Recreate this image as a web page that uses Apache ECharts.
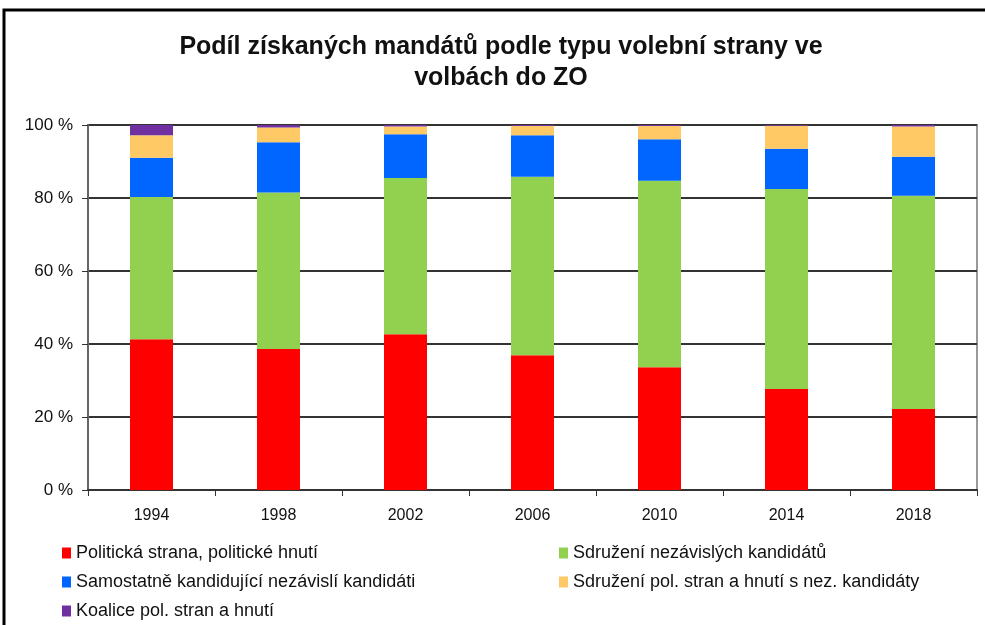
<!DOCTYPE html>
<html>
<head>
<meta charset="utf-8">
<script src="https://cdn.jsdelivr.net/npm/echarts@6/dist/echarts.min.js"></script>
<style>
  html, body { margin: 0; padding: 0; background: #fff; }
  #chart { width: 985px; height: 625px; }
</style>
</head>
<body>
<div id="chart"></div>
<script>
const years = ["1994", "1998", "2002", "2006", "2010", "2014", "2018"];
const names = [
  "Politická strana, politické hnutí",
  "Sdružení nezávislých kandidátů",
  "Samostatně kandidující nezávislí kandidáti",
  "Sdružení pol. stran a hnutí s nez. kandidáty",
  "Koalice pol. stran a hnutí"
];
const politicka = [41.3, 38.6, 42.7, 36.9, 33.6, 27.7, 22.2];
const sdruzeniNez = [39.0, 42.9, 42.8, 48.9, 51.1, 54.8, 58.4];
const samostatne = [10.7, 13.8, 12.0, 11.4, 11.4, 11.0, 10.7];
const sdruzeniPol = [6.2, 4.0, 2.1, 2.5, 3.6, 6.3, 8.3];
const koalice = [2.8, 0.7, 0.4, 0.3, 0.3, 0.2, 0.4];
const yTicks = [0, 20, 40, 60, 80, 100];

const colors = ["#ff0000", "#92d050", "#0066ff", "#ffc966", "#7030a0"];
const values = [politicka, sdruzeniNez, samostatne, sdruzeniPol, koalice];

// legend positions, one legend per item
const legendPos = [
  { left: 57, top: 539 },
  { left: 554, top: 539 },
  { left: 57, top: 568 },
  { left: 554, top: 568 },
  { left: 57, top: 597 }
];

const myChart = echarts.init(document.getElementById("chart"));
myChart.setOption({
  animation: false,
  title: {
    text: "Podíl získaných mandátů podle typu volební strany ve\nvolbách do ZO",
    left: 496,
    textAlign: "center",
    top: 27,
    textStyle: {
      fontFamily: "Liberation Sans",
      fontSize: 25,
      fontWeight: "bold",
      color: "#111",
      lineHeight: 31
    }
  },
  graphic: [
    {
      type: "polyline",
      shape: { points: [[4, 625], [4, 10], [985, 10]] },
      style: { stroke: "#000", lineWidth: 3, fill: null }
    }
  ],
  legend: names.map((n, i) => ({
    data: [n],
    left: legendPos[i].left,
    top: legendPos[i].top,
    itemWidth: 9,
    itemHeight: 11,
    itemGap: 0,
    icon: "rect",
    textStyle: { fontFamily: "Liberation Sans", fontSize: 18, color: "#111" }
  })),
  grid: {
    left: 88,
    right: 8,
    top: 125,
    bottom: 135,
    show: true,
    borderColor: "#999",
    borderWidth: 2
  },
  xAxis: {
    type: "category",
    data: years,
    axisLine: { lineStyle: { color: "#333", width: 2 } },
    axisTick: { show: true, alignWithLabel: false, length: 6, lineStyle: { color: "#333" } },
    axisLabel: { fontFamily: "Liberation Sans", fontSize: 16, color: "#111", margin: 18 }
  },
  yAxis: {
    type: "value",
    min: yTicks[0],
    max: yTicks[yTicks.length - 1],
    interval: 20,
    axisLine: { show: true, lineStyle: { color: "#666", width: 2 } },
    axisTick: { show: true, length: 6, lineStyle: { color: "#333" } },
    axisLabel: { fontFamily: "Liberation Sans", fontSize: 17, color: "#111", margin: 15, formatter: "{value} %" },
    splitLine: { show: true, lineStyle: { color: "#333", width: 2 } }
  },
  series: names.map((n, i) => ({
    name: n,
    type: "bar",
    stack: "total",
    barWidth: 43,
    data: values[i],
    itemStyle: { color: colors[i] }
  }))
});
</script>
</body>
</html>
